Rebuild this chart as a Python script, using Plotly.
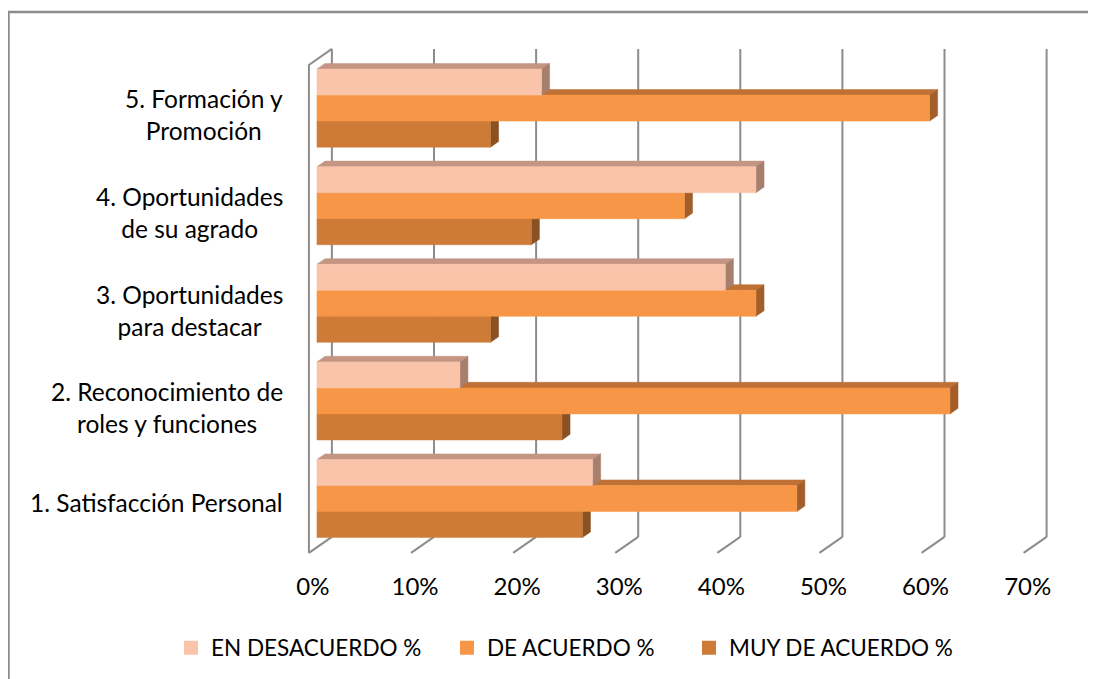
import plotly.graph_objects as go

categories = [
    "1. Satisfacción Personal",
    "2. Reconocimiento de<br>roles y funciones",
    "3. Oportunidades<br>para destacar",
    "4. Oportunidades<br>de su agrado",
    "5. Formación y<br>Promoción",
]
series_names = ["EN DESACUERDO %", "DE ACUERDO %", "MUY DE ACUERDO %"]
en_desacuerdo = [27, 14, 40, 43, 22]
de_acuerdo = [47, 62, 43, 36, 60]
muy_de_acuerdo = [26, 24, 17, 21, 17]
x_ticks = [0, 10, 20, 30, 40, 50, 60, 70]
x_tick_labels = ["0%", "10%", "20%", "30%", "40%", "50%", "60%", "70%"]

# front, top, side colours per series
colors = {
    "EN DESACUERDO %": ("#FAC4AA", "#C49582", "#A77F6D"),
    "DE ACUERDO %": ("#F79646", "#BE7035", "#A35F2B"),
    "MUY DE ACUERDO %": ("#CD7B36", "#A5622A", "#8A5224"),
}

FONT = "Lato"
GRID = "#8C8C8C"
W, H = 1088, 671  # page body adds 8px margin

# fake 3d depth (x in % units, y in category units)
DX, DY = 2.25, 0.164
fx, fy = -0.35 * DX, -0.35 * DY   # front plane relative to bar faces
bx, by = 0.65 * DX, 0.65 * DY     # back plane
bdx, bdy = 0.35 * DX, 0.35 * DY   # bar depth
bar_h = 0.8 / 3

fig = go.Figure()

# walls / gridlines
y_lo, y_hi = -0.5, len(categories) - 0.5
gx, gy = [], []
for k in x_ticks:
    gx += [k + bx, k + bx, None, k + bx, k + fx, None]
    gy += [y_hi + by, y_lo + by, None, y_lo + by, y_lo + fy, None]
gx += [fx, fx, bx, None]
gy += [y_lo + fy, y_hi + fy, y_hi + by, None]
fig.add_trace(go.Scatter(x=gx, y=gy, mode="lines", line=dict(color=GRID, width=2),
                         showlegend=False, hoverinfo="skip"))


def faces(values, offset):
    fr, tp, sd = ([], []), ([], []), ([], [])
    for i, v in enumerate(values):
        y0 = i + offset - bar_h / 2
        y1 = i + offset + bar_h / 2
        fr[0].extend([0, v, v, 0, 0, None]); fr[1].extend([y0, y0, y1, y1, y0, None])
        tp[0].extend([0, v, v + bdx, bdx, 0, None]); tp[1].extend([y1, y1, y1 + bdy, y1 + bdy, y1, None])
        sd[0].extend([v, v + bdx, v + bdx, v, v, None]); sd[1].extend([y0, y0 + bdy, y1 + bdy, y1, y0, None])
    return fr, tp, sd


series = [("MUY DE ACUERDO %", muy_de_acuerdo, -1),
          ("DE ACUERDO %", de_acuerdo, 0),
          ("EN DESACUERDO %", en_desacuerdo, 1)]
for name, vals, pos in series:
    fr, tp, sd = faces(vals, pos * bar_h)
    c_front, c_top, c_side = colors[name]
    for (xs, ys), c in ((tp, c_top), (sd, c_side), (fr, c_front)):
        fig.add_trace(go.Scatter(x=xs, y=ys, mode="lines", fill="toself", fillcolor=c,
                                 line=dict(color=c, width=0.5), showlegend=False, hoverinfo="skip"))

# legend proxies, one small legend each so the spacing can follow the original
legend_ids = ["legend", "legend2", "legend3"]
legend_x = [163, 439, 681]
for name, lid in zip(series_names, legend_ids):
    fig.add_trace(go.Scatter(x=[None], y=[None], mode="markers", name=name, legend=lid,
                             marker=dict(symbol="square", size=14, color=colors[name][0])))

for i, cat in enumerate(categories):
    dy = -0.07 if "<br>" in cat else -0.04
    fig.add_annotation(x=277 / W, xref="paper", xanchor="right", y=i + dy, yref="y",
                       yanchor="middle", text=cat, align="center", showarrow=False,
                       font=dict(family=FONT, size=24.5, color="#000000"))

fig.add_shape(type="rect", xref="paper", yref="paper", x0=0.5 / W, x1=1.02, y0=-0.02,
              y1=1 - 4 / H, line=dict(color=GRID, width=2.5))

fig.update_layout(
    width=W, height=H,
    margin=dict(l=0, r=0, t=0, b=0),
    paper_bgcolor="white", plot_bgcolor="white",
    font=dict(family=FONT, size=24, color="#000000"),
    xaxis=dict(range=[-30.26, 76.30], showgrid=False, zeroline=False, showline=False,
               tickvals=[k + fx / 2 for k in x_ticks], ticktext=x_tick_labels, ticks="",
               anchor="free", position=(H - 562) / H, tickfont=dict(size=24)),
    yaxis=dict(range=[-1.849, 5.0256], visible=False),
    showlegend=True,
)
for lid, lx in zip(legend_ids, legend_x):
    fig.update_layout({lid: dict(orientation="h", x=lx / W, xanchor="left", y=(H - 640) / H,
                                 yanchor="middle", font=dict(size=22.5), bgcolor="rgba(0,0,0,0)")})

fig.write_html("out.html")
